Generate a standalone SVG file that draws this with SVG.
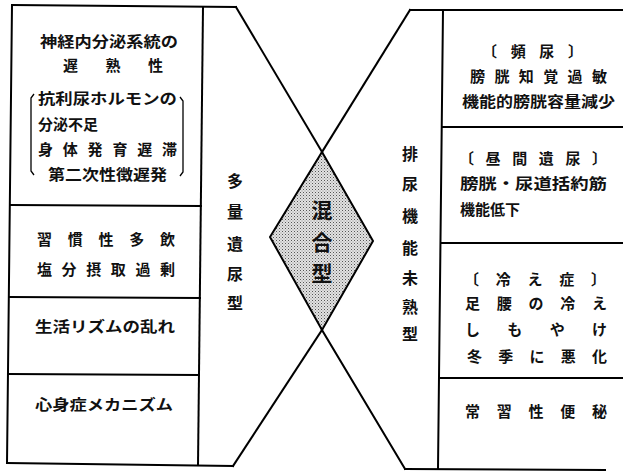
<svg xmlns="http://www.w3.org/2000/svg" width="624" height="471" viewBox="0 0 624 471">
<style>
  .ln{stroke:#000;stroke-width:2;fill:none;stroke-linecap:square}
  .t{font-family:"Noto Sans CJK JP","Noto Sans CJK SC",sans-serif;font-weight:700;font-size:15px;fill:#111;dominant-baseline:central}
  .v{font-family:"Noto Sans CJK JP","Noto Sans CJK SC",sans-serif;font-weight:700;font-size:16px;fill:#111;text-anchor:middle;dominant-baseline:central}
  .c{font-family:"Noto Sans CJK JP","Noto Sans CJK SC",sans-serif;font-weight:700;font-size:21px;fill:#111;text-anchor:middle;dominant-baseline:central}
</style>
<defs>
  <pattern id="stip" width="3" height="3" patternUnits="userSpaceOnUse">
    <rect width="3" height="3" fill="#e2e2e2"/>
    <rect x="0" y="0" width="1" height="1" fill="#555"/>
    <rect x="1.5" y="1.5" width="1" height="1" fill="#8a8a8a"/>
  </pattern>
</defs>
<rect width="624" height="471" fill="#fff"/>

<g id="frame">
  <path class="ln" d="M12,5 L236,7"/>
  <path class="ln" d="M12,5 L7,463"/>
  <path class="ln" d="M7,463 L233,466"/>
  <path class="ln" d="M203,7 L198,465"/>
  <path class="ln" d="M410,10 L622,10"/>
  <path class="ln" d="M405,469 L605,470"/>
  <path class="ln" d="M443,10 L438,469"/>
</g>

<g id="left-1">
  <text class="t" x="40" y="40" textLength="138" lengthAdjust="spacingAndGlyphs">神経内分泌系統の</text>
  <text class="t" x="63" y="64" textLength="100" lengthAdjust="spacing">遅熟性</text>
  <text class="t" x="38" y="97" textLength="139" lengthAdjust="spacingAndGlyphs">抗利尿ホルモンの</text>
  <text class="t" x="38" y="123" textLength="60" lengthAdjust="spacingAndGlyphs">分泌不足</text>
  <text class="t" x="38" y="148" textLength="139" lengthAdjust="spacing">身体発育遅滞</text>
  <text class="t" x="48" y="173" textLength="119" lengthAdjust="spacingAndGlyphs">第二次性徴遅発</text>
  <path d="M34,94 L31,98 L31,171 L34,175" stroke="#000" stroke-width="1.3" fill="none"/>
  <path d="M180,97 L183,101 L183,172 L180,176" stroke="#000" stroke-width="1.3" fill="none"/>
</g>
<g id="left-2">
  <path class="ln" d="M11,205 L201,206"/>
  <text class="t" x="37" y="238" textLength="138" lengthAdjust="spacing">習慣性多飲</text>
  <text class="t" x="37" y="268" textLength="138" lengthAdjust="spacing">塩分摂取過剰</text>
</g>
<g id="left-3">
  <path class="ln" d="M10,297 L200,298"/>
  <text class="t" x="35" y="325" textLength="140" lengthAdjust="spacingAndGlyphs">生活リズムの乱れ</text>
</g>
<g id="left-4">
  <path class="ln" d="M9,374 L199,375"/>
  <text class="t" x="35" y="403" textLength="138" lengthAdjust="spacingAndGlyphs">心身症メカニズム</text>
</g>

<g id="right-1">
  <text class="t" x="482" y="50" textLength="101" lengthAdjust="spacing">〔頻尿〕</text>
  <text class="t" x="470" y="75" textLength="137" lengthAdjust="spacing">膀胱知覚過敏</text>
  <text class="t" x="462" y="100" textLength="153" lengthAdjust="spacingAndGlyphs">機能的膀胱容量減少</text>
</g>
<g id="right-2">
  <path class="ln" d="M442,127 L622,127"/>
  <text class="t" x="459" y="157" textLength="148" lengthAdjust="spacing">〔昼間遺尿〕</text>
  <text class="t" x="460" y="182" textLength="147" lengthAdjust="spacingAndGlyphs">膀胱・尿道括約筋</text>
  <text class="t" x="460" y="208" textLength="60" lengthAdjust="spacingAndGlyphs">機能低下</text>
</g>
<g id="right-3">
  <path class="ln" d="M441,243 L622,243"/>
  <text class="t" x="464" y="278" textLength="142" lengthAdjust="spacing">〔冷え症〕</text>
  <text class="t" x="465" y="302" textLength="142" lengthAdjust="spacing">足腰の冷え</text>
  <text class="t" x="465" y="328" textLength="142" lengthAdjust="spacing">しもやけ</text>
  <text class="t" x="467" y="355" textLength="140" lengthAdjust="spacing">冬季に悪化</text>
</g>
<g id="right-4">
  <path class="ln" d="M440,378 L622,378"/>
  <text class="t" x="465" y="410" textLength="142" lengthAdjust="spacing">常習性便秘</text>
</g>

<g id="polyuria-type">
  <text class="v"><tspan x="235" y="180">多</tspan><tspan x="235" y="211">量</tspan><tspan x="235" y="243">遺</tspan><tspan x="235" y="273">尿</tspan><tspan x="235" y="302">型</tspan></text>
</g>
<g id="immature-type">
  <text class="v"><tspan x="410" y="153">排</tspan><tspan x="410" y="183">尿</tspan><tspan x="410" y="215">機</tspan><tspan x="410" y="247">能</tspan><tspan x="410" y="277">未</tspan><tspan x="410" y="306">熟</tspan><tspan x="410" y="333">型</tspan></text>
</g>

<g id="mixed-type">
  <polygon points="322,152 373,241 322,330 270,237" fill="url(#stip)" stroke="#000" stroke-width="2"/>
  <text class="c"><tspan x="322" y="209">混</tspan><tspan x="322" y="241">合</tspan><tspan x="322" y="272">型</tspan></text>
</g>

<g id="connectors">
  <path class="ln" d="M236,7 L322,152"/>
  <path class="ln" d="M410,10 L322,152"/>
  <path class="ln" d="M322,330 L233,466"/>
  <path class="ln" d="M322,330 L405,469"/>
</g>
</svg>
